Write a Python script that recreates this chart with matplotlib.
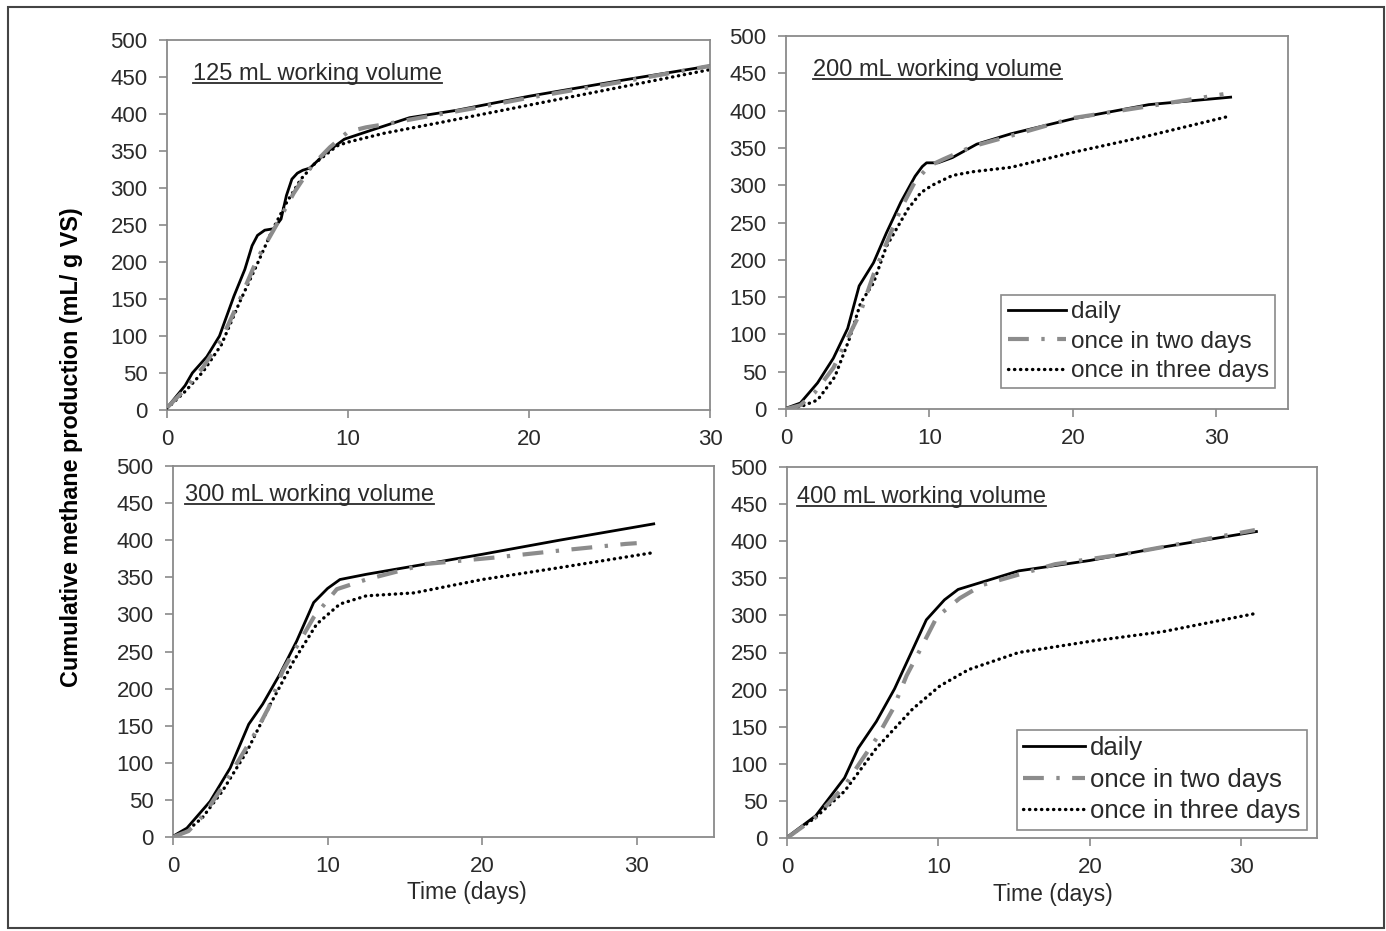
import matplotlib
matplotlib.use("Agg")
import matplotlib.pyplot as plt
from matplotlib.lines import Line2D
from matplotlib.patches import Rectangle

plt.rcParams['font.family'] = ['Liberation Sans', 'DejaVu Sans']

# panel titles
titles = ["125 mL working volume", "200 mL working volume",
          "300 mL working volume", "400 mL working volume"]
series_names = ["daily", "once in two days", "once in three days"]

# 125 mL
d125_daily = [0, 1, 1.4, 2.2, 2.9, 3.7, 4.3, 4.7, 5.0, 5.4, 5.9, 6.3, 6.6, 6.9, 7.2, 7.5, 7.9, 8.8, 9.8, 11.4, 13.4, 16, 20, 25, 30]
v125_daily = [3, 33, 50, 72, 100, 154, 190, 222, 236, 243, 245, 258, 290, 312, 320, 324, 327, 348, 366, 379, 395, 405, 424, 445, 465]
d125_two = [0, 1, 2, 3, 4, 5, 6, 7, 8, 9, 10, 11, 12, 14, 17, 20, 25, 30]
v125_two = [3, 28, 58, 95, 148, 205, 248, 293, 330, 355, 376, 382, 386, 395, 408, 422, 443, 465]
d125_three = [0, 1, 2, 3, 4, 5, 5.8, 6.6, 7.4, 8.2, 9.4, 10, 12, 15, 20, 25, 30]
v125_three = [2, 25, 52, 88, 145, 198, 242, 280, 312, 334, 357, 362, 374, 388, 412, 436, 460]

# 200 mL
d200_daily = [0, 1, 2.2, 3.3, 4.3, 5.1, 6.1, 7, 8, 9, 9.5, 9.8, 10.6, 11.6, 13.3, 15.7, 20, 25.3, 31]
v200_daily = [1, 8, 35, 68, 108, 165, 196, 236, 277, 312, 325, 330, 330, 337, 355, 369, 389, 408, 418]
d200_two = [0, 1, 2, 3.3, 4.3, 5.2, 6.1, 7, 8, 9, 10, 11, 13, 16, 20, 25, 30.5]
v200_two = [0, 5, 22, 55, 95, 130, 180, 222, 268, 305, 326, 335, 352, 368, 390, 405, 422]
d200_three = [0, 1, 2.2, 3.4, 4.4, 5.2, 6.1, 7, 8.5, 9.4, 10.2, 11.6, 13, 15.7, 20, 25, 30.8]
v200_three = [0, 3, 12, 43, 93, 142, 169, 218, 268, 290, 300, 313, 318, 324, 344, 365, 392]

# 300 mL
d300_daily = [0, 0.9, 2.4, 3.7, 4.9, 5.8, 6.9, 8, 9.1, 10, 10.8, 12.5, 15, 20, 25, 31.1]
v300_daily = [1, 12, 48, 93, 152, 179, 219, 264, 316, 335, 347, 354, 363, 381, 400, 422]
d300_two = [0, 1, 2, 3.3, 4.3, 5.4, 6.2, 7.1, 8.1, 9.1, 10.6, 12.5, 16.4, 21, 25, 29.3, 30]
v300_two = [0, 8, 30, 71, 105, 143, 175, 224, 260, 296, 334, 347, 368, 377, 386, 395, 396]
d300_three = [0, 1, 1.9, 3.2, 4.8, 6.3, 7.8, 9.3, 10.8, 12.5, 15.6, 20, 25, 31]
v300_three = [0, 10, 26, 62, 116, 179, 237, 287, 314, 325, 329, 347, 363, 383]

# 400 mL
d400_daily = [0, 1.9, 3.8, 4.7, 5.9, 7.1, 8.3, 9.2, 10.4, 11.3, 12.9, 15.3, 20, 24.8, 31]
v400_daily = [1, 30, 81, 121, 157, 201, 254, 294, 321, 335, 345, 360, 374, 392, 413]
d400_two = [0, 1.9, 3.8, 4.8, 5.9, 7, 7.9, 8.8, 9.9, 11.4, 12.9, 17.7, 22.4, 30.9]
v400_two = [0, 28, 70, 101, 134, 174, 219, 254, 298, 323, 341, 369, 383, 415]
d400_three = [0, 1.9, 3.8, 5.9, 8.3, 10.1, 12, 15.3, 20, 24.8, 30.8]
v400_three = [0, 28, 63, 121, 174, 205, 227, 250, 265, 278, 302]

yticks = [0, 50, 100, 150, 200, 250, 300, 350, 400, 450, 500]
xticks = [0, 10, 20, 30]

panels = [
    ((d125_daily, v125_daily), (d125_two, v125_two), (d125_three, v125_three)),
    ((d200_daily, v200_daily), (d200_two, v200_two), (d200_three, v200_three)),
    ((d300_daily, v300_daily), (d300_two, v300_two), (d300_three, v300_three)),
    ((d400_daily, v400_daily), (d400_two, v400_two), (d400_three, v400_three)),
]

W, H = 1386, 931
fig = plt.figure(figsize=(W / 100, H / 100), dpi=100)

# axes boxes in pixels: left, right, top, bottom
boxes = [(167, 710, 40, 410), (786, 1288, 36, 409),
         (173, 714, 466, 837), (787, 1317, 467, 838)]
xmax = [30, 35, 35, 35]
title_pos = [(0.048, 0.892), (0.054, 0.893), (0.022, 0.906), (0.019, 0.903)]

spine_col = "#8a8a8a"
text_col = "#2a2a2a"

axes = []
title_texts = []
for i, (l, r, t, b) in enumerate(boxes):
    ax = fig.add_axes([l / W, 1 - b / H, (r - l) / W, (b - t) / H])
    daily, two, three = panels[i]
    ax.plot(three[0], three[1], color="black", lw=2.4, linestyle=(0, (0.1, 1.7)),
            dash_capstyle="round", label=series_names[2], zorder=2)
    ax.plot(daily[0], daily[1], color="black", lw=2.0, label=series_names[0], zorder=3)
    ax.plot(two[0], two[1], color="#8c8c8c", lw=3, linestyle=(0, (5, 3, 0.8, 3)),
            label=series_names[1], zorder=4)
    ax.set_xlim(0, xmax[i])
    ax.set_ylim(0, 500)
    ax.set_xticks(xticks)
    ax.set_yticks(yticks)
    for s in ax.spines.values():
        s.set_color(spine_col)
        s.set_linewidth(1.3)
    ax.tick_params(direction="out", length=6, width=1.2, color=spine_col,
                   labelsize=16, labelcolor=text_col, pad=8)
    tx = ax.text(title_pos[i][0], title_pos[i][1], titles[i], transform=ax.transAxes,
                 fontsize=17, color=text_col, va="baseline", ha="left")
    title_texts.append(tx)
    axes.append(ax)

# legends in the right-hand panels
for ax, anchor, fs in [(axes[1], (0.974, 0.056), 17.5), (axes[3], (0.981, 0.022), 18.5)]:
    h, lab = ax.get_legend_handles_labels()
    order = [1, 2, 0]
    leg = ax.legend([h[k] for k in order], [lab[k] for k in order],
                    loc="lower right", bbox_to_anchor=anchor, fontsize=fs,
                    frameon=True, fancybox=False, framealpha=1, edgecolor=spine_col,
                    handlelength=2.4, handletextpad=0.2, borderpad=0.25,
                    labelspacing=0.3, borderaxespad=0)
    leg.get_frame().set_linewidth(1.2)
    for t in leg.get_texts():
        t.set_color(text_col)

fig.text(72 / W, 1 - 447 / H, "Cumulative methane production (mL/ g VS)",
         rotation=90, ha="center", va="center", fontsize=16.8, fontweight="bold",
         color="black")
fig.text(467 / W, 1 - 893 / H, "Time (days)", ha="center", va="center",
         fontsize=16.5, color=text_col)
fig.text(1053 / W, 1 - 895 / H, "Time (days)", ha="center", va="center",
         fontsize=16.5, color=text_col)

# underline the panel titles
fig.canvas.draw()
inv = fig.transFigure.inverted()
for ax, tx in zip(axes, title_texts):
    bb = tx.get_window_extent()
    base = ax.transAxes.transform(tx.get_position())[1] - 3
    (x0, y0), (x1, _) = inv.transform([[bb.x0, base], [bb.x1, base]])
    fig.add_artist(Line2D([x0, x1], [y0, y0], transform=fig.transFigure,
                          color=text_col, lw=1.3))

# outer frame
fig.add_artist(Rectangle((8 / W, 1 - 928 / H), (1384 - 8) / W, (928 - 7) / H,
                         transform=fig.transFigure, fill=False,
                         edgecolor="#444444", lw=1.5))

fig.savefig("out.png", dpi=100)
